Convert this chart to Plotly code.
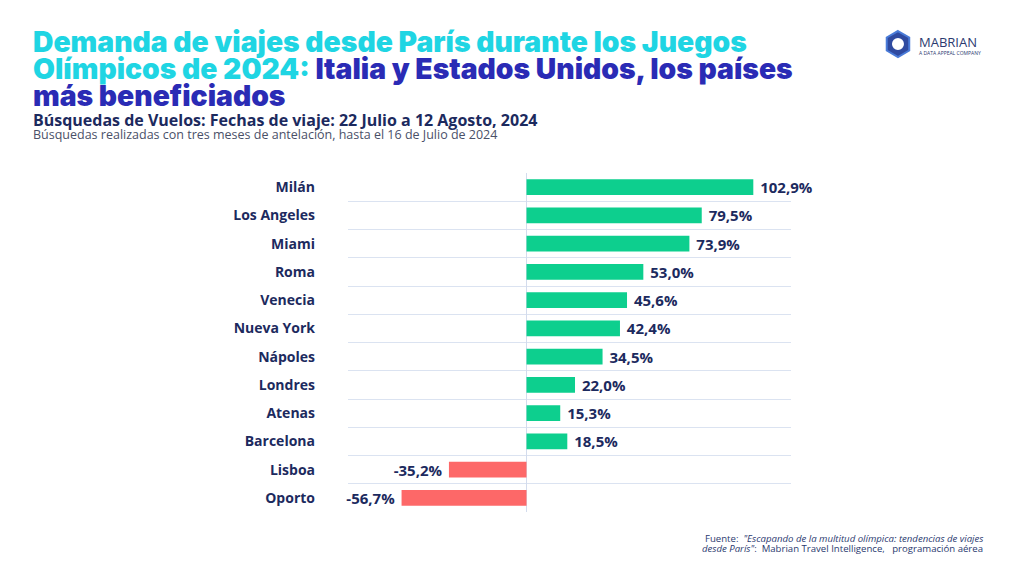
import math
import plotly.graph_objects as go

# Variación de búsquedas de vuelos desde París (%)
ciudades = ["Milán", "Los Angeles", "Miami", "Roma", "Venecia", "Nueva York",
            "Nápoles", "Londres", "Atenas", "Barcelona", "Lisboa", "Oporto"]
variacion = [102.9, 79.5, 73.9, 53.0, 45.6, 42.4, 34.5, 22.0, 15.3, 18.5, -35.2, -56.7]

verde = "#0dcf8e"
rojo = "#fd6868"
navy = "#1c2a5e"
colores = [verde if v >= 0 else rojo for v in variacion]

# etiquetas con coma decimal y un pequeño hueco respecto a la barra
etiquetas = []
for v in variacion:
    s = f"{v:.1f}%".replace(".", ",")
    etiquetas.append("\u00a0" + s if v >= 0 else s + "\u00a0")

fig = go.Figure(go.Bar(
    x=variacion,
    y=ciudades,
    orientation="h",
    marker=dict(color=colores, line=dict(width=0)),
    text=etiquetas,
    textposition="outside",
    textfont=dict(family="Open Sans", size=15, color=navy, weight="bold"),
    constraintext="none",
    cliponaxis=False,
    hoverinfo="skip",
))

# plot area: 443 x 339 px
fig.update_layout(
    width=1024, height=576,
    margin=dict(l=340, r=241, t=165, b=72),
    paper_bgcolor="white", plot_bgcolor="white",
    bargap=0.44,
    showlegend=False,
    font=dict(family="Open Sans", color=navy),
)

fig.update_xaxes(
    range=[-81, 120],
    showgrid=False, showticklabels=False, ticks="",
    zeroline=True, zerolinecolor="#d3dced", zerolinewidth=1,
)
fig.update_yaxes(
    autorange="reversed",
    tickson="boundaries",
    showgrid=True, gridcolor="#dbe3f1", gridwidth=1,
    ticks="", ticklabelstandoff=32,
    tickfont=dict(family="Open Sans", size=14, color=navy, weight="bold"),
)

# Título en dos colores
cian = "#1fd5e3"
azul = "#2a2bb5"
lineas_titulo = [
    f"<span style='color:{cian}'>Demanda de viajes desde París durante los Juegos</span>",
    f"<span style='color:{cian}'>Olímpicos de 2024: </span>"
    f"<span style='color:{azul}'>Italia y Estados Unidos, los países</span>",
    f"<span style='color:{azul}'>más beneficiados</span>",
]
for linea, yy in zip(lineas_titulo, [1.3864, 1.3068, 1.2271]):
    fig.add_annotation(
        text=linea, xref="paper", yref="paper",
        x=-0.7156, y=yy, xanchor="left", yanchor="middle",
        showarrow=False,
        font=dict(family="Inter", size=28.3, weight=900),
    )

fig.add_annotation(
    text="Búsquedas de Vuelos: Fechas de viaje: 22 Julio a 12 Agosto, 2024",
    xref="paper", yref="paper",
    x=-0.7156, y=1.1563, xanchor="left", yanchor="middle",
    showarrow=False,
    font=dict(family="Open Sans", size=16, color=navy, weight="bold"),
)
fig.add_annotation(
    text="Búsquedas realizadas con tres meses de antelación, hasta el 16 de Julio de 2024",
    xref="paper", yref="paper",
    x=-0.7156, y=1.1121, xanchor="left", yanchor="middle",
    showarrow=False,
    font=dict(family="Open Sans", size=12.5, color="#4a5068"),
)

# Logo Mabrian (hexágono)
cx, cy, rx, ry = 1.2415, 1.3805, 13 / 443, 13 / 339
pts = [(cx + rx * math.cos(math.radians(a)), cy + ry * math.sin(math.radians(a)))
       for a in (90, 30, -30, -90, -150, 150)]
fig.add_shape(
    type="path", xref="paper", yref="paper", layer="above",
    path="M " + " L ".join(f"{px:.4f},{py:.4f}" for px, py in pts) + " Z",
    fillcolor="#2f4aa0", line=dict(color="#4a7bd8", width=2),
)
fig.add_shape(
    type="circle", xref="paper", yref="paper", layer="above",
    x0=cx - 6 / 443, x1=cx + 6 / 443, y0=cy - 6 / 339, y1=cy + 6 / 339,
    fillcolor="white", line=dict(width=0),
)
fig.add_annotation(
    text="MABRIAN", xref="paper", yref="paper",
    x=1.2844, y=1.3864, xanchor="left", yanchor="middle", showarrow=False,
    font=dict(family="Open Sans", size=13, color="#2b3a6f"),
)
fig.add_annotation(
    text="A DATA APPEAL COMPANY", xref="paper", yref="paper",
    x=1.2844, y=1.354, xanchor="left", yanchor="middle", showarrow=False,
    font=dict(family="Open Sans", size=5, color="#2b3a6f"),
)

# Fuente
fuente = [
    "Fuente:  <i>\"Escapando de la multitud olímpica: tendencias de viajes</i>",
    "<i>desde París\"</i>:  Mabrian Travel Intelligence,   programación aérea",
]
for linea, yy in zip(fuente, [-0.0767, -0.1091]):
    fig.add_annotation(
        text=linea, xref="paper", yref="paper",
        x=1.438, y=yy, xanchor="right", yanchor="middle",
        showarrow=False,
        font=dict(family="Open Sans", size=9.6, color="#2b3a6f"),
    )

fig.write_html("out.html")
